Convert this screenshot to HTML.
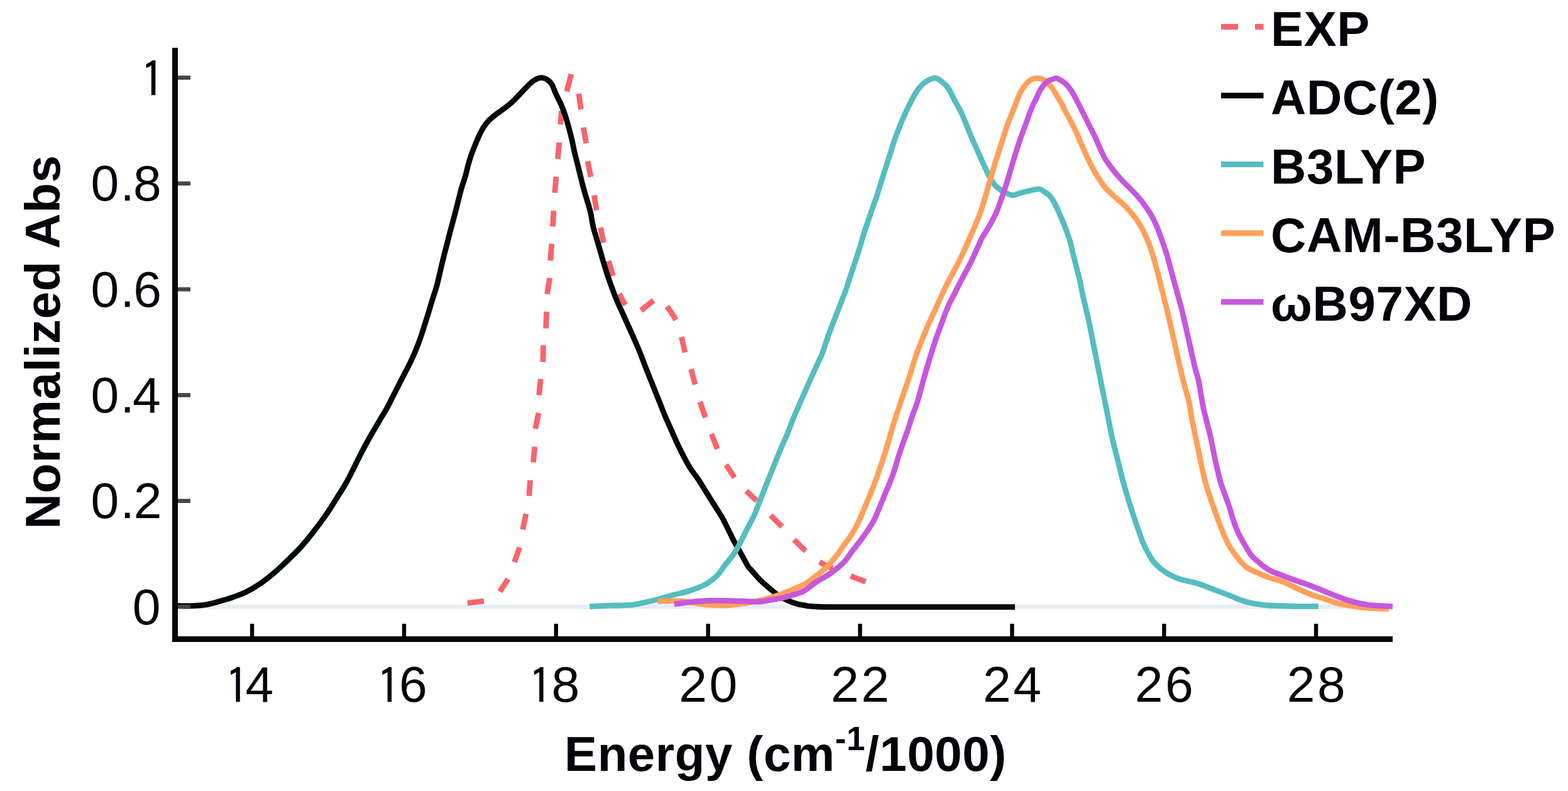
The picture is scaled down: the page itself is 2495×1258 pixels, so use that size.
<!DOCTYPE html>
<html><head><meta charset="utf-8"><title>Normalized absorption spectra</title>
<style>html,body{margin:0;padding:0;background:#fff;}body{width:2495px;height:1258px;overflow:hidden;}svg{display:block;}</style>
</head><body>
<svg width="2495" height="1258" viewBox="0 0 2495 1258">
<rect width="2495" height="1258" fill="#ffffff"/>
<line x1="283" y1="965" x2="2216" y2="965" stroke="#e8edf6" stroke-width="7"/>
<g fill="none" stroke-width="8.8" stroke-linejoin="round" stroke-linecap="butt">
<path d="M744.0 959.1 L770.1 955.8 M795.2 940.8 L808.5 920.7 M818.5 894.0 L826.9 870.6 M831.9 842.2 L836.9 817.2 M841.9 788.8 L843.6 763.7 M848.6 735.4 L850.9 710.3 M851.9 681.9 L856.9 656.9 M857.6 628.5 L860.3 602.8 M863.9 575.9 L864.5 549.1 M868.7 522.4 L869.6 495.6 M870.6 467.9 L874.8 442.1 M875.7 414.4 L877.8 387.6 M879.6 360.3 L881.0 335.2 M882.7 306.6 L885.1 281.0 M887.5 252.8 L889.9 226.6 M891.8 197.9 L893.4 176.4 M901.8 145.4 L909.0 117.9 M920.9 149.0 L924.5 174.0 M928.1 202.7 L932.8 227.8 M935.2 256.4 L940.0 281.5 M945.3 310.6 L949.3 334.4 M955.5 362.0 L960.5 386.0 M968.3 415.0 L975.4 438.8 M985.0 467.5 L995.3 485.0 M1020.0 493.7 L1039.9 477.8 M1061.3 487.4 L1068.5 497.5 L1075.6 508.8 M1084.4 535.9 L1090.0 560.5 M1099.6 587.2 L1106.2 611.5 M1113.9 639.0 L1122.4 664.0 M1132.0 690.2 L1141.5 714.0 M1155.1 739.1 L1168.7 759.4 M1187.3 780.8 L1204.0 796.3 M1226.0 819.7 L1244.4 837.5 M1263.5 858.4 L1282.0 876.3 M1304.0 893.6 L1313.0 899.0 L1324.9 903.7 M1353.5 916.2 L1377.3 925.2" stroke="#f8646b"/>
<path d="M283.0 963.5 C286.2 963.5 295.4 963.9 302.3 963.7 C309.2 963.5 317.1 963.3 324.5 962.2 C331.9 961.1 339.4 959.0 346.8 957.0 C354.2 955.0 361.6 953.0 369.0 950.4 C376.4 947.8 383.9 945.2 391.3 941.6 C398.7 938.0 406.1 933.6 413.5 928.6 C420.9 923.6 427.9 918.1 435.8 911.4 C443.7 904.6 453.7 895.1 460.9 888.1 C468.1 881.1 472.8 876.7 479.2 869.5 C485.6 862.3 492.7 853.7 499.6 844.7 C506.5 835.7 514.4 825.0 520.8 815.7 C527.2 806.4 532.9 796.7 537.9 788.8 C542.9 780.9 546.5 775.8 550.7 768.2 C555.0 760.6 559.2 751.7 563.4 743.4 C567.6 735.1 571.7 726.5 575.8 718.6 C579.9 710.7 583.7 703.7 588.2 695.8 C592.7 687.9 598.1 678.7 602.6 671.0 C607.1 663.3 611.0 657.5 615.3 649.7 C619.6 641.9 624.0 632.7 628.4 624.2 C632.8 615.7 637.5 606.4 641.4 598.8 C645.3 591.2 648.6 585.2 651.9 578.4 C655.2 571.6 658.3 564.9 661.1 558.1 C663.9 551.3 666.5 544.5 668.9 537.7 C671.3 530.9 673.3 524.2 675.5 517.4 C677.7 510.6 679.8 503.8 681.9 497.0 C684.0 490.2 685.8 483.5 688.0 476.5 C690.2 469.5 692.8 462.5 694.9 454.9 C697.0 447.3 698.7 438.9 700.6 431.0 C702.5 423.1 704.4 414.9 706.3 407.2 C708.2 399.5 710.2 392.3 712.1 384.9 C714.0 377.5 715.9 369.8 717.8 362.7 C719.7 355.6 721.5 349.2 723.4 342.0 C725.3 334.8 727.4 326.6 729.1 319.7 C730.9 312.8 732.0 307.4 733.9 300.7 C735.8 293.9 738.8 285.8 740.7 279.2 C742.6 272.6 743.7 266.9 745.3 261.1 C746.9 255.3 748.5 250.1 750.5 244.5 C752.5 238.9 755.1 232.9 757.2 227.8 C759.3 222.8 760.9 218.5 763.0 214.2 C765.1 209.9 767.2 206.0 769.7 202.2 C772.2 198.4 774.8 194.9 777.9 191.6 C781.0 188.3 784.9 185.3 788.4 182.5 C791.9 179.7 795.4 177.5 798.8 175.0 C802.2 172.5 805.6 170.2 809.0 167.4 C812.4 164.6 815.6 161.6 819.0 158.3 C822.4 155.0 825.7 151.3 829.1 147.8 C832.5 144.3 835.8 140.5 839.2 137.2 C842.6 133.9 845.8 130.4 849.4 128.1 C853.0 125.8 857.2 123.8 860.7 123.6 C864.2 123.3 867.6 124.8 870.5 126.6 C873.4 128.4 875.7 130.3 878.1 134.2 C880.5 138.1 882.4 144.7 884.8 150.0 C887.2 155.3 890.2 160.1 892.7 165.9 C895.2 171.7 897.8 178.6 899.9 185.0 C902.0 191.4 903.7 197.8 905.4 204.1 C907.1 210.4 908.7 216.8 910.2 223.1 C911.7 229.4 912.7 235.8 914.2 242.2 C915.7 248.6 917.4 254.9 919.0 261.3 C920.6 267.7 922.1 274.0 923.7 280.4 C925.3 286.8 926.8 293.0 928.5 299.4 C930.2 305.8 932.2 312.1 934.1 318.5 C936.0 324.9 938.0 330.5 939.6 337.6 C941.2 344.7 942.2 353.6 944.0 361.0 C945.8 368.4 948.1 375.0 950.1 382.0 C952.1 389.0 954.2 395.9 956.2 402.9 C958.2 409.9 960.2 417.2 962.3 423.9 C964.3 430.6 966.3 436.7 968.5 443.1 C970.7 449.5 973.2 456.3 975.5 462.4 C977.8 468.5 979.9 474.1 982.4 479.9 C984.9 485.7 987.7 491.5 990.3 497.3 C992.9 503.1 995.4 508.7 998.2 514.8 C1001.0 520.9 1003.7 526.7 1006.9 534.1 C1010.1 541.5 1014.1 550.5 1017.6 559.0 C1021.1 567.5 1024.4 576.8 1027.8 585.4 C1031.2 594.0 1034.6 602.4 1038.0 610.9 C1041.4 619.4 1044.8 627.8 1048.2 636.3 C1051.6 644.8 1054.9 653.8 1058.3 661.8 C1061.7 669.8 1065.1 677.0 1068.5 684.6 C1071.9 692.2 1075.3 700.3 1078.7 707.5 C1082.1 714.7 1085.5 721.5 1088.9 727.9 C1092.3 734.3 1095.2 739.8 1099.0 745.7 C1102.8 751.6 1107.5 757.1 1111.8 763.5 C1116.0 769.9 1120.3 777.1 1124.5 783.9 C1128.7 790.7 1133.0 797.4 1137.2 804.2 C1141.4 811.0 1146.1 817.8 1149.9 824.6 C1153.7 831.4 1156.9 838.5 1160.1 844.9 C1163.3 851.2 1166.5 858.1 1169.0 862.7 C1171.5 867.4 1171.4 866.6 1174.9 872.8 C1178.4 879.0 1186.5 894.5 1189.8 900.0 C1193.1 905.5 1191.6 902.2 1194.9 906.0 C1198.2 909.8 1204.8 917.7 1209.8 922.7 C1214.8 927.7 1219.7 931.6 1224.7 935.8 C1229.7 940.0 1234.6 944.4 1239.6 947.7 C1244.6 951.0 1249.5 953.3 1254.5 955.5 C1259.5 957.7 1265.2 959.6 1269.4 960.8 C1273.7 962.0 1276.7 962.0 1280.0 962.6 C1283.3 963.2 1283.3 963.7 1289.1 964.2 C1294.9 964.7 1296.2 965.2 1314.7 965.4 C1333.2 965.6 1350.0 965.4 1400.0 965.4 C1450.0 965.4 1579.2 965.4 1615.0 965.4" stroke="#030808"/>
<path d="M938.3 964.5 C943.3 964.3 957.5 963.5 968.5 963.1 C979.5 962.7 992.6 963.5 1004.4 962.2 C1016.1 960.9 1027.9 957.8 1039.0 955.1 C1050.1 952.4 1061.5 948.8 1071.1 946.2 C1080.7 943.7 1088.2 942.6 1096.7 939.8 C1105.2 937.0 1114.8 933.8 1122.4 929.5 C1130.0 925.2 1137.0 919.3 1142.2 914.1 C1147.4 908.9 1149.6 903.9 1153.8 898.5 C1158.0 893.1 1163.2 887.6 1167.3 881.6 C1171.3 875.6 1174.5 869.5 1178.1 862.7 C1181.7 856.0 1185.3 848.3 1189.0 841.1 C1192.7 833.9 1196.5 827.2 1200.0 819.5 C1203.5 811.8 1206.5 803.2 1209.7 795.1 C1212.9 787.0 1215.9 779.3 1219.3 770.8 C1222.7 762.2 1226.6 752.8 1230.2 743.8 C1233.8 734.8 1237.4 725.4 1241.0 716.8 C1244.6 708.2 1248.2 701.0 1251.8 692.4 C1255.4 683.8 1258.9 673.9 1262.4 665.4 C1265.9 656.9 1269.2 649.6 1272.9 641.1 C1276.6 632.6 1280.8 623.1 1284.8 614.1 C1288.8 605.1 1293.0 595.6 1296.9 587.0 C1300.8 578.4 1304.6 571.6 1308.1 562.7 C1311.6 553.8 1314.8 542.4 1318.1 533.4 C1321.3 524.4 1324.4 516.9 1327.6 508.6 C1330.8 500.3 1334.2 491.7 1337.2 483.8 C1340.2 475.9 1343.2 468.7 1345.9 461.1 C1348.6 453.5 1350.9 446.0 1353.4 438.4 C1355.9 430.8 1358.5 423.3 1361.0 415.7 C1363.5 408.1 1366.0 400.5 1368.3 392.9 C1370.6 385.3 1372.6 377.8 1375.0 370.2 C1377.4 362.6 1380.1 355.1 1382.7 347.5 C1385.3 339.9 1388.5 330.6 1390.5 324.8 C1392.5 319.1 1393.0 318.7 1394.9 313.0 C1396.8 307.3 1399.4 298.0 1401.7 290.5 C1404.0 283.0 1406.6 275.4 1409.0 267.8 C1411.4 260.2 1413.9 252.7 1416.3 245.1 C1418.7 237.5 1421.1 229.4 1423.5 222.4 C1425.9 215.4 1428.4 209.2 1430.8 203.1 C1433.2 197.0 1435.6 191.1 1438.0 185.6 C1440.4 180.1 1442.7 175.1 1445.3 169.9 C1447.9 164.7 1450.7 159.0 1453.4 154.2 C1456.1 149.4 1458.6 145.0 1461.7 141.1 C1464.8 137.2 1468.0 133.4 1472.2 130.6 C1476.5 127.8 1482.8 124.4 1487.2 124.2 C1491.6 124.0 1494.8 127.0 1498.4 129.7 C1502.0 132.4 1505.3 134.9 1508.9 140.2 C1512.5 145.5 1516.8 155.6 1520.0 161.5 C1523.2 167.4 1525.2 170.4 1527.9 175.8 C1530.6 181.2 1533.2 187.4 1535.9 193.7 C1538.6 200.0 1541.2 207.3 1543.8 213.6 C1546.4 219.9 1549.1 225.6 1551.8 231.5 C1554.5 237.4 1557.0 243.4 1559.7 249.3 C1562.4 255.2 1565.2 261.9 1567.7 267.2 C1570.2 272.5 1571.9 276.5 1574.6 281.1 C1577.2 285.7 1580.4 291.4 1583.6 295.0 C1586.8 298.6 1590.2 300.8 1593.5 303.0 C1596.8 305.2 1600.2 306.8 1603.4 308.0 C1606.6 309.2 1609.1 310.7 1612.4 310.5 C1615.7 310.3 1619.5 308.1 1623.3 307.0 C1627.1 305.9 1630.2 305.1 1635.2 304.0 C1640.2 302.9 1648.9 300.6 1653.2 300.7 C1657.5 300.8 1658.4 303.0 1661.1 304.6 C1663.8 306.2 1666.6 307.7 1669.1 310.2 C1671.6 312.7 1674.1 316.2 1676.2 319.7 C1678.3 323.1 1679.9 326.9 1681.8 330.9 C1683.7 334.9 1685.6 339.4 1687.4 343.6 C1689.2 347.8 1691.2 352.1 1692.9 356.3 C1694.6 360.5 1696.1 364.5 1697.7 369.0 C1699.3 373.5 1701.0 378.3 1702.5 383.3 C1704.0 388.3 1705.1 393.9 1706.4 399.2 C1707.7 404.5 1709.1 409.8 1710.4 415.1 C1711.7 420.4 1713.1 425.7 1714.4 431.0 C1715.7 436.3 1717.2 441.6 1718.4 446.9 C1719.6 452.2 1720.5 457.8 1721.5 462.8 C1722.5 467.8 1722.9 469.4 1724.7 477.1 C1726.5 484.8 1729.6 497.1 1732.2 509.1 C1734.8 521.1 1737.7 536.5 1740.2 549.3 C1742.8 562.1 1745.1 573.6 1747.5 585.8 C1749.9 598.0 1752.3 610.2 1754.8 622.4 C1757.2 634.6 1759.8 646.7 1762.2 658.9 C1764.7 671.1 1766.8 683.3 1769.5 695.5 C1772.2 707.7 1775.5 719.9 1778.6 732.1 C1781.6 744.3 1784.4 756.4 1787.8 768.6 C1791.2 780.8 1795.0 793.6 1798.7 805.2 C1802.4 816.8 1806.0 827.7 1809.7 838.1 C1813.4 848.5 1816.4 858.2 1820.7 867.4 C1825.0 876.5 1829.8 886.0 1835.3 893.0 C1840.8 900.0 1846.9 904.8 1853.6 909.4 C1860.3 914.0 1867.0 917.3 1875.5 920.4 C1884.0 923.5 1895.0 924.7 1904.8 927.7 C1914.5 930.7 1924.8 935.1 1934.0 938.6 C1943.2 942.1 1953.9 946.1 1960.0 948.5 C1966.1 950.9 1966.9 951.5 1970.4 952.8 C1973.9 954.1 1976.8 955.4 1980.8 956.5 C1984.8 957.6 1988.8 958.6 1994.4 959.6 C2000.0 960.6 2007.8 961.9 2014.2 962.5 C2020.6 963.1 2024.6 963.2 2032.9 963.5 C2041.2 963.8 2053.3 964.2 2064.2 964.3 C2075.0 964.4 2092.4 964.3 2098.0 964.3" stroke="#55bdc0"/>
<path d="M1046.1 956.4 C1052.4 956.3 1071.2 954.9 1083.9 955.8 C1096.6 956.7 1110.7 960.4 1122.4 961.6 C1134.2 962.8 1144.8 963.0 1154.4 962.8 C1164.0 962.6 1172.6 961.1 1179.9 960.2 C1187.2 959.3 1192.0 958.6 1198.0 957.5 C1204.0 956.4 1208.9 955.2 1215.8 953.3 C1222.7 951.4 1231.6 949.0 1239.6 946.2 C1247.5 943.4 1256.5 939.6 1263.5 936.6 C1270.5 933.6 1275.5 932.1 1281.8 928.3 C1288.1 924.5 1295.6 918.2 1301.4 913.6 C1307.2 909.0 1311.8 905.7 1316.8 900.6 C1321.8 895.5 1327.4 888.4 1331.7 882.8 C1336.0 877.2 1339.5 871.4 1342.8 866.9 C1346.1 862.4 1347.9 861.0 1351.4 855.7 C1354.9 850.4 1360.0 842.3 1363.7 835.1 C1367.4 827.9 1370.7 819.5 1373.8 812.3 C1376.9 805.0 1379.6 798.5 1382.4 791.6 C1385.2 784.7 1388.2 777.9 1390.8 771.0 C1393.4 764.1 1395.9 756.8 1398.2 750.3 C1400.5 743.8 1402.4 738.2 1404.6 731.7 C1406.8 725.2 1409.0 717.9 1411.1 711.0 C1413.2 704.1 1415.0 697.5 1417.1 690.3 C1419.2 683.1 1421.4 675.2 1423.8 667.6 C1426.2 660.0 1429.2 651.6 1431.5 644.8 C1433.8 638.0 1434.8 634.4 1437.3 627.0 C1439.8 619.6 1443.5 610.3 1446.7 600.6 C1449.9 590.9 1453.2 578.4 1456.4 568.8 C1459.6 559.2 1462.8 551.3 1466.1 543.0 C1469.3 534.7 1472.3 527.4 1475.9 519.1 C1479.5 510.8 1483.8 501.9 1487.7 493.3 C1491.6 484.7 1495.5 475.8 1499.4 467.5 C1503.3 459.2 1506.8 451.9 1511.1 443.6 C1515.3 435.3 1520.9 425.7 1524.9 417.8 C1528.9 409.9 1532.4 402.4 1535.1 396.5 C1537.8 390.6 1538.7 388.5 1541.3 382.5 C1543.9 376.5 1547.6 368.2 1550.8 360.6 C1554.0 353.0 1557.4 344.8 1560.3 336.8 C1563.2 328.9 1565.5 320.8 1567.9 312.9 C1570.3 304.9 1572.3 297.1 1574.6 289.1 C1576.9 281.2 1579.3 272.8 1581.6 265.2 C1583.9 257.6 1586.2 250.7 1588.5 243.4 C1590.8 236.1 1593.0 229.1 1595.5 221.5 C1598.0 213.9 1600.0 206.8 1603.4 197.7 C1606.8 188.6 1613.0 173.7 1615.7 166.8 C1618.4 159.9 1618.1 159.8 1619.5 156.3 C1620.9 152.8 1622.5 149.0 1624.3 145.8 C1626.0 142.6 1627.9 139.9 1630.0 137.2 C1632.1 134.5 1634.5 131.6 1636.7 129.6 C1638.9 127.6 1641.2 126.2 1643.4 125.3 C1645.6 124.4 1647.9 124.3 1650.1 124.3 C1652.3 124.3 1654.6 124.6 1656.8 125.3 C1659.0 126.0 1661.0 126.8 1663.4 128.6 C1665.8 130.4 1668.9 133.8 1671.1 136.3 C1673.3 138.9 1674.9 141.1 1676.8 143.9 C1678.7 146.8 1680.4 149.9 1682.5 153.4 C1684.6 156.9 1687.0 160.8 1689.2 164.9 C1691.4 169.0 1693.8 174.2 1695.9 178.2 C1698.0 182.2 1699.3 184.1 1701.9 189.1 C1704.5 194.1 1708.3 201.4 1711.5 208.2 C1714.7 215.0 1717.8 222.5 1721.0 229.7 C1724.2 236.8 1727.3 244.3 1730.5 251.1 C1733.7 257.9 1736.5 263.8 1740.1 270.2 C1743.7 276.6 1748.7 284.3 1752.0 289.3 C1755.3 294.3 1756.2 295.9 1760.0 300.0 C1763.8 304.1 1770.0 309.4 1775.0 314.0 C1780.0 318.6 1785.8 323.4 1790.0 327.5 C1794.2 331.6 1796.7 334.5 1800.0 338.5 C1803.3 342.5 1806.7 346.3 1810.0 351.4 C1813.3 356.5 1816.7 362.2 1820.0 369.0 C1823.3 375.8 1827.7 386.4 1830.0 392.3 C1832.3 398.2 1832.3 398.7 1834.0 404.5 C1835.7 410.3 1838.2 419.0 1840.3 426.9 C1842.4 434.8 1844.4 443.4 1846.5 451.7 C1848.6 460.0 1850.6 468.2 1852.7 476.5 C1854.8 484.8 1857.0 493.4 1858.9 501.3 C1860.8 509.2 1862.4 516.4 1864.1 524.0 C1865.8 531.6 1867.6 539.2 1869.3 546.8 C1871.0 554.4 1872.7 561.9 1874.4 569.5 C1876.1 577.1 1877.7 584.3 1879.6 592.2 C1881.5 600.1 1883.7 609.1 1885.8 617.0 C1887.9 624.9 1890.2 631.5 1892.0 639.8 C1893.8 648.1 1894.9 658.2 1896.5 666.9 C1898.1 675.5 1900.0 683.4 1901.7 691.7 C1903.4 700.0 1905.2 708.2 1906.9 716.5 C1908.6 724.8 1910.3 733.4 1912.0 741.3 C1913.7 749.2 1915.3 756.8 1917.2 764.0 C1919.1 771.2 1921.2 777.8 1923.4 784.7 C1925.6 791.6 1928.2 798.5 1930.6 805.4 C1933.0 812.3 1935.5 819.5 1937.9 826.0 C1940.3 832.5 1942.3 838.1 1945.1 844.6 C1947.8 851.1 1950.8 858.8 1954.4 865.3 C1958.0 871.8 1962.4 878.1 1966.8 883.9 C1971.2 889.7 1976.7 896.1 1980.8 899.9 C1984.9 903.7 1987.8 904.7 1991.3 906.6 C1994.8 908.5 1997.4 909.3 2001.7 911.2 C2006.0 913.1 2012.1 916.0 2017.3 917.9 C2022.5 919.8 2027.7 920.8 2032.9 922.5 C2038.1 924.2 2043.3 926.0 2048.5 928.2 C2053.7 930.5 2058.1 933.2 2064.2 936.0 C2070.3 938.8 2078.1 942.5 2085.0 945.1 C2091.9 947.8 2098.9 949.6 2105.8 951.9 C2112.8 954.2 2119.8 957.1 2126.7 959.0 C2133.6 960.9 2140.6 961.9 2147.5 963.1 C2154.4 964.3 2161.4 965.4 2168.3 966.1 C2175.2 966.9 2182.2 967.2 2189.2 967.6 C2196.1 968.0 2206.5 968.3 2210.0 968.4" stroke="#ffa05a"/>
<path d="M1073.0 960.9 C1079.1 960.1 1098.2 957.4 1109.6 956.4 C1121.0 955.4 1128.2 955.1 1141.6 955.1 C1155.0 955.1 1178.4 956.0 1189.8 956.3 C1201.2 956.6 1203.5 957.3 1209.8 956.9 C1216.1 956.5 1221.7 955.0 1227.7 954.0 C1233.7 953.0 1239.6 952.1 1245.6 950.7 C1251.6 949.3 1257.8 947.5 1263.5 945.6 C1269.2 943.7 1274.1 942.8 1280.0 939.4 C1285.9 936.0 1292.0 930.1 1299.0 925.5 C1306.0 920.9 1314.4 916.9 1321.8 911.6 C1329.2 906.3 1337.7 899.4 1343.3 893.7 C1348.9 888.0 1351.0 883.0 1355.3 877.4 C1359.6 871.8 1364.8 865.6 1369.0 859.9 C1373.2 854.2 1377.1 848.8 1380.8 843.3 C1384.5 837.8 1388.0 832.6 1391.0 826.8 C1394.0 820.9 1396.2 814.8 1399.0 808.2 C1401.8 801.7 1404.6 794.4 1407.5 787.5 C1410.4 780.6 1413.5 773.7 1416.2 766.8 C1418.9 759.9 1421.4 753.0 1423.7 746.1 C1426.0 739.2 1427.6 732.4 1429.8 725.5 C1432.0 718.6 1434.5 711.7 1436.9 704.8 C1439.3 697.9 1441.8 691.3 1444.3 684.1 C1446.8 676.9 1449.1 669.0 1451.7 661.4 C1454.3 653.8 1457.0 648.3 1460.0 638.5 C1463.0 628.7 1466.6 613.9 1469.8 602.6 C1473.0 591.3 1476.1 581.1 1479.2 570.8 C1482.3 560.5 1485.5 550.3 1488.6 541.0 C1491.7 531.7 1494.8 523.8 1498.0 515.2 C1501.2 506.6 1504.1 497.6 1507.7 489.3 C1511.3 481.0 1515.6 473.4 1519.6 465.5 C1523.6 457.6 1527.6 449.3 1531.6 441.7 C1535.6 434.1 1539.8 427.2 1543.5 419.8 C1547.2 412.4 1550.9 403.9 1554.1 397.0 C1557.3 390.1 1559.2 384.9 1562.6 378.5 C1566.0 372.1 1571.0 365.2 1574.7 358.6 C1578.4 352.0 1581.9 345.8 1585.0 338.8 C1588.1 331.9 1590.5 324.5 1593.2 316.9 C1595.9 309.3 1598.7 301.1 1601.2 293.1 C1603.7 285.2 1605.9 277.1 1608.3 269.2 C1610.7 261.2 1613.1 253.3 1615.6 245.4 C1618.1 237.5 1620.2 230.3 1623.3 221.5 C1626.3 212.7 1631.4 199.7 1633.9 192.6 C1636.5 185.5 1637.0 183.3 1638.6 179.2 C1640.2 175.0 1641.7 171.5 1643.4 167.7 C1645.2 163.9 1647.2 160.3 1649.1 156.3 C1651.0 152.3 1652.7 147.6 1654.8 143.9 C1656.9 140.2 1659.1 137.0 1661.5 134.4 C1663.9 131.8 1666.7 129.6 1669.2 128.1 C1671.8 126.6 1674.8 125.9 1676.8 125.3 C1678.8 124.7 1679.1 123.8 1681.2 124.3 C1683.3 124.8 1686.8 127.1 1689.2 128.6 C1691.7 130.1 1693.8 131.5 1695.9 133.4 C1698.0 135.3 1699.7 137.6 1701.6 140.1 C1703.5 142.6 1705.3 145.3 1707.3 148.7 C1709.3 152.1 1711.1 155.3 1713.8 160.5 C1716.5 165.7 1720.2 173.2 1723.4 179.6 C1726.6 186.0 1729.7 192.3 1732.9 198.7 C1736.1 205.1 1739.5 211.5 1742.5 217.8 C1745.5 224.2 1748.0 230.9 1750.8 236.8 C1753.6 242.8 1755.7 247.9 1759.1 253.5 C1762.5 259.1 1766.7 264.6 1771.1 270.2 C1775.5 275.8 1782.2 283.3 1785.4 286.9 C1788.6 290.4 1787.6 289.1 1790.0 291.5 C1792.4 293.9 1796.7 298.1 1800.0 301.5 C1803.3 304.9 1806.7 308.3 1810.0 312.1 C1813.3 315.9 1816.7 320.0 1820.0 324.5 C1823.3 329.0 1827.0 334.2 1830.0 339.1 C1833.0 344.0 1835.7 349.2 1838.0 354.0 C1840.3 358.8 1840.8 360.0 1843.8 368.0 C1846.8 376.0 1852.8 392.6 1855.8 402.1 C1858.8 411.6 1859.9 417.2 1862.0 424.8 C1864.1 432.4 1866.1 439.9 1868.2 447.5 C1870.3 455.1 1872.3 462.7 1874.4 470.3 C1876.5 477.9 1878.7 485.4 1880.6 493.0 C1882.5 500.6 1884.1 508.1 1885.8 515.7 C1887.5 523.3 1889.3 530.9 1891.0 538.5 C1892.7 546.1 1894.4 553.6 1896.1 561.2 C1897.8 568.8 1899.4 576.4 1901.3 584.0 C1903.2 591.6 1905.8 599.1 1907.5 606.7 C1909.2 614.3 1910.0 621.8 1911.3 629.4 C1912.6 637.0 1914.2 646.0 1915.5 652.2 C1916.8 658.5 1917.6 660.3 1919.3 666.9 C1921.0 673.5 1923.6 683.4 1925.5 691.7 C1927.4 700.0 1928.9 708.2 1930.6 716.5 C1932.3 724.8 1933.9 733.0 1935.8 741.3 C1937.7 749.6 1939.8 758.5 1942.0 766.1 C1944.2 773.7 1946.8 779.9 1949.2 786.8 C1951.6 793.7 1954.2 800.5 1956.5 807.4 C1958.8 814.3 1960.3 821.2 1962.7 828.1 C1965.1 835.0 1967.8 842.2 1970.9 848.8 C1974.0 855.3 1977.9 861.6 1981.3 867.4 C1984.7 873.2 1987.9 879.2 1991.3 883.5 C1994.7 887.8 1998.2 890.0 2001.7 893.0 C2005.2 896.0 2008.6 899.2 2012.1 901.7 C2015.6 904.2 2017.3 905.8 2022.5 908.2 C2027.7 910.6 2036.3 913.7 2043.3 916.3 C2050.2 918.9 2057.2 921.5 2064.2 924.0 C2071.1 926.5 2078.1 928.8 2085.0 931.4 C2091.9 934.0 2098.9 936.8 2105.8 939.6 C2112.8 942.4 2119.8 945.5 2126.7 948.1 C2133.6 950.8 2140.6 953.4 2147.5 955.5 C2154.4 957.6 2161.4 959.3 2168.3 960.6 C2175.2 961.9 2181.2 962.6 2189.2 963.2 C2197.1 963.8 2211.5 964.1 2216.0 964.3" stroke="#c657dd"/>
</g>
<rect x="283" y="120.2" width="20" height="6.6" fill="#464646"/>
<rect x="283" y="288.5" width="20" height="6.6" fill="#464646"/>
<rect x="283" y="456.8" width="20" height="6.6" fill="#464646"/>
<rect x="283" y="625.1" width="20" height="6.6" fill="#464646"/>
<rect x="283" y="793.4" width="20" height="6.6" fill="#464646"/>
<rect x="283" y="961.7" width="20" height="6.6" fill="#464646"/>
<rect x="397.9" y="992" width="6.4" height="20" fill="#070303"/>
<rect x="639.8" y="992" width="6.4" height="20" fill="#070303"/>
<rect x="881.6" y="992" width="6.4" height="20" fill="#070303"/>
<rect x="1123.5" y="992" width="6.4" height="20" fill="#070303"/>
<rect x="1365.3" y="992" width="6.4" height="20" fill="#070303"/>
<rect x="1607.2" y="992" width="6.4" height="20" fill="#070303"/>
<rect x="1849.1" y="992" width="6.4" height="20" fill="#070303"/>
<rect x="2090.9" y="992" width="6.4" height="20" fill="#070303"/>
<rect x="274" y="76" width="9" height="945" fill="#030808"/>
<rect x="274" y="1012" width="1942" height="9" fill="#030808"/>
<g font-family="Liberation Sans, Arial, sans-serif" font-size="80.5" fill="#03040a">
<text font-family="IPAGothic, Liberation Sans, sans-serif" font-size="79" x="223.3" y="155.2">1</text>
<text x="144.4 191.5 212.0" y="319.4">0.8</text>
<text x="144.4 191.5 212.3" y="487.7">0.6</text>
<text x="144.4 191.5 211.1" y="656.0">0.4</text>
<text x="144.4 191.5 212.8" y="824.3">0.2</text>
<text x="210.8" y="992.6">0</text>
<text font-family="IPAGothic, Liberation Sans, sans-serif" font-size="79" x="357.7" y="1120.1">1</text>
<text x="390.4" y="1115.7">4</text>
<text font-family="IPAGothic, Liberation Sans, sans-serif" font-size="79" x="599.1" y="1120.1">1</text>
<text x="634.9" y="1115.7">6</text>
<text font-family="IPAGothic, Liberation Sans, sans-serif" font-size="79" x="840.6" y="1120.1">1</text>
<text x="877.5" y="1115.7">8</text>
<text x="1128.4" y="1115.7" text-anchor="middle" letter-spacing="3.5">20</text>
<text x="1370.3" y="1115.7" text-anchor="middle" letter-spacing="3.5">22</text>
<text x="1612.2" y="1115.7" text-anchor="middle" letter-spacing="3.5">24</text>
<text x="1854.0" y="1115.7" text-anchor="middle" letter-spacing="3.5">26</text>
<text x="2095.9" y="1115.7" text-anchor="middle" letter-spacing="3.5">28</text>
</g>
<g font-family="Liberation Sans, Arial, sans-serif" font-weight="bold" font-size="78" letter-spacing="0.6" fill="#03040a">
<text transform="translate(95 544) rotate(-90)" text-anchor="middle">Normalized Abs</text>
<text x="898" y="1225.8">Energy (cm<tspan font-size="53" dy="-33">-1</tspan><tspan dy="33">/1000)</tspan></text>
<rect x="1943" y="38.1" width="27" height="9" fill="#f8646b"/>
<rect x="1997" y="38.1" width="13.5" height="9" fill="#f8646b"/>
<text x="2022" y="72.8">EXP</text>
<rect x="1943" y="147.5" width="67.5" height="9" fill="#030808"/>
<text x="2022" y="182.2">ADC(2)</text>
<rect x="1943" y="256.9" width="67.5" height="9" fill="#55bdc0"/>
<text x="2022" y="291.6">B3LYP</text>
<rect x="1943" y="366.3" width="67.5" height="9" fill="#ffa05a"/>
<text x="2022" y="401.0">CAM-B3LYP</text>
<rect x="1943" y="475.7" width="67.5" height="9" fill="#c657dd"/>
<text x="2022" y="510.4">ωB97XD</text>
</g>
</svg>
</body></html>
